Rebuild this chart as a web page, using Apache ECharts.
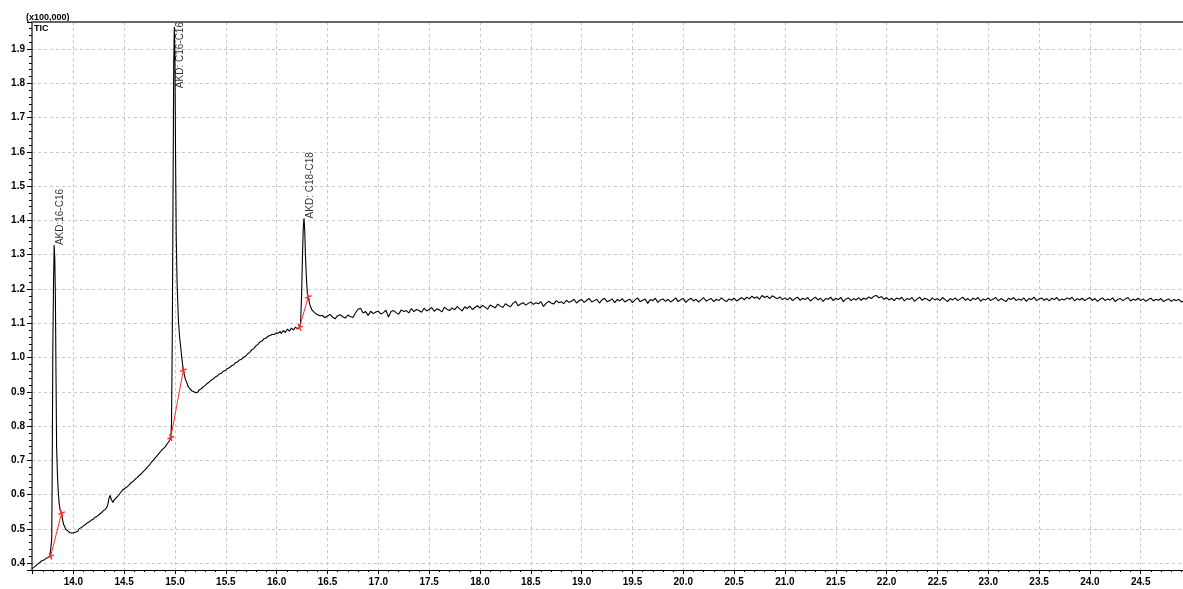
<!DOCTYPE html>
<html>
<head>
<meta charset="utf-8">
<script src="https://cdn.jsdelivr.net/npm/echarts@6/dist/echarts.min.js"></script>
<style>
html,body{margin:0;padding:0;background:#fff;}
#chart{width:1183px;height:589px;}
</style>
</head>
<body>
<div id="chart"></div>
<script>
// ---- data (retention time in min, intensity in x100,000) ----
const ticEarly = [
[13.593,0.384],[13.61,0.388],[13.63,0.392],[13.65,0.398],[13.67,0.402],[13.69,0.407],[13.71,0.409],[13.73,0.414],[13.75,0.416],[13.77,0.421],[13.78,0.425],
[13.787,0.47],[13.791,0.63],[13.798,1.03],[13.805,1.22],[13.811,1.328],[13.817,1.29],[13.823,1.18],[13.829,0.95],[13.835,0.74],[13.843,0.66],[13.851,0.61],[13.86,0.575],[13.87,0.555],[13.884,0.545],
[13.895,0.525],[13.905,0.512],[13.915,0.506],[13.925,0.499],[13.935,0.497],[13.945,0.494],[13.955,0.492],[13.965,0.489],[13.975,0.492],[13.985,0.488],[13.995,0.491],[14.005,0.489],[14.015,0.494],[14.025,0.491],[14.035,0.496],[14.045,0.494],[14.055,0.500],[14.065,0.497],[14.075,0.503],[14.085,0.502],[14.095,0.508],[14.105,0.505],[14.115,0.512],[14.125,0.510],[14.135,0.517],[14.145,0.514],[14.155,0.520],[14.165,0.518],[14.175,0.525],[14.185,0.523],[14.195,0.528],[14.205,0.527],[14.215,0.534],[14.225,0.531],[14.235,0.537],[14.245,0.536],[14.255,0.542],[14.265,0.540],[14.275,0.547],[14.285,0.545],[14.295,0.553],[14.305,0.552],[14.315,0.557],[14.325,0.560],[14.335,0.566],
[14.35,0.588],[14.36,0.598],[14.375,0.585],[14.39,0.577],[14.400,0.584],[14.410,0.583],[14.425,0.592],[14.435,0.590],[14.445,0.598],[14.455,0.600],[14.465,0.606],[14.475,0.608],[14.485,0.614],[14.495,0.612],[14.505,0.618],[14.515,0.617],[14.525,0.622],[14.535,0.623],[14.545,0.627],[14.555,0.628],[14.565,0.634],[14.575,0.633],[14.585,0.638],[14.595,0.640],[14.605,0.644],[14.615,0.644],[14.625,0.649],[14.635,0.650],[14.645,0.655],[14.655,0.655],[14.665,0.660],[14.675,0.662],[14.685,0.666],[14.695,0.667],[14.705,0.672],[14.715,0.674],[14.725,0.679],[14.735,0.680],[14.745,0.685],[14.755,0.689],[14.765,0.693],[14.775,0.695],[14.785,0.700],[14.795,0.702],[14.805,0.707],[14.815,0.709],[14.825,0.714],[14.835,0.716],[14.845,0.721],[14.855,0.722],[14.865,0.728],[14.875,0.729],[14.885,0.734],[14.895,0.735],[14.905,0.740],[14.915,0.743],[14.925,0.749],[14.935,0.751],[14.945,0.757],[14.958,0.766]
];
const ticPeak2 = [
[14.965,0.80],[14.973,1.05],[14.980,1.45],[14.987,1.85],[14.993,1.965],[14.999,1.88],[15.005,1.60],[15.012,1.35],[15.020,1.22],[15.033,1.11],[15.045,1.06],[15.056,1.03],[15.070,0.99],[15.082,0.963],
[15.095,0.945],[15.105,0.934],[15.115,0.928],[15.125,0.918],[15.135,0.915],[15.145,0.909],[15.155,0.911],[15.165,0.903],[15.175,0.905],[15.185,0.900],[15.195,0.904],[15.205,0.897],[15.215,0.901],[15.225,0.899],[15.235,0.905],[15.245,0.902],[15.255,0.908],[15.265,0.906],[15.275,0.914],[15.285,0.911],[15.295,0.918],[15.305,0.916],[15.315,0.924],[15.325,0.921],[15.335,0.928],[15.345,0.926],[15.355,0.934],[15.365,0.931],[15.375,0.937],[15.385,0.936],[15.395,0.943],[15.405,0.941],[15.415,0.946],[15.425,0.944],[15.435,0.952],[15.445,0.949],[15.455,0.954],[15.465,0.953],[15.475,0.960],[15.485,0.957],[15.495,0.962],[15.505,0.961],[15.515,0.968],[15.525,0.965],[15.535,0.970],[15.545,0.970],[15.555,0.976],[15.565,0.973],[15.575,0.978],[15.585,0.979],[15.595,0.985],[15.605,0.982],[15.615,0.987],[15.625,0.988],[15.635,0.993],[15.645,0.991],[15.655,0.995],[15.665,0.997],[15.675,1.001],[15.685,1.000],[15.695,1.004],[15.705,1.007],[15.715,1.011],[15.725,1.010],[15.735,1.015],[15.745,1.018],[15.755,1.022],[15.765,1.021],[15.775,1.026],[15.785,1.030],[15.795,1.034],[15.805,1.033],[15.815,1.038],[15.825,1.041],[15.835,1.045],[15.845,1.043],[15.855,1.048],[15.865,1.052],[15.875,1.055],[15.885,1.052],[15.895,1.057],[15.905,1.060],[15.915,1.062],[15.925,1.059],[15.935,1.064],[15.945,1.067],[15.955,1.068],[15.965,1.063],[15.975,1.067],[15.985,1.071],[15.995,1.072],[16.005,1.067],[16.015,1.071],[16.025,1.076],[16.035,1.076],[16.045,1.070],[16.055,1.074],[16.065,1.079],[16.075,1.079],[16.085,1.073],[16.095,1.078],[16.105,1.083],[16.115,1.083],[16.125,1.077],[16.135,1.081],[16.145,1.086],[16.155,1.086],[16.165,1.080],[16.175,1.084],[16.185,1.089],[16.195,1.088],[16.205,1.083],[16.215,1.087],[16.225,1.088]
];
const ticPeak3 = [
[16.235,1.10],[16.245,1.18],[16.254,1.30],[16.262,1.38],[16.269,1.406],[16.276,1.37],[16.283,1.30],[16.291,1.24],[16.301,1.19],[16.311,1.177],[16.325,1.155],[16.345,1.140],[16.365,1.133],[16.385,1.128],[16.405,1.125],[16.425,1.122]
];
const ticLate = [
[16.450,1.123],[16.475,1.116],[16.500,1.121],[16.525,1.126],[16.550,1.118],[16.575,1.113],[16.600,1.122],[16.625,1.125],[16.650,1.119],[16.675,1.115],[16.700,1.124],[16.725,1.120],[16.750,1.117],[16.775,1.130],[16.800,1.141],[16.825,1.144],[16.850,1.130],[16.875,1.134],[16.900,1.123],[16.925,1.135],[16.950,1.128],[16.975,1.133],
[17.000,1.135],[17.025,1.127],[17.050,1.131],[17.075,1.138],[17.100,1.118],[17.125,1.134],[17.150,1.137],[17.175,1.131],[17.200,1.126],[17.225,1.139],[17.250,1.134],[17.275,1.137],[17.300,1.130],[17.325,1.143],[17.350,1.134],[17.375,1.140],[17.400,1.137],[17.425,1.132],[17.450,1.144],[17.475,1.136],
[17.500,1.140],[17.525,1.146],[17.550,1.135],[17.575,1.142],[17.600,1.139],[17.625,1.133],[17.650,1.147],[17.675,1.141],[17.700,1.137],[17.725,1.145],[17.750,1.139],[17.775,1.149],[17.800,1.142],[17.825,1.136],[17.850,1.148],[17.875,1.143],[17.900,1.150],[17.925,1.140],[17.950,1.146],[17.975,1.151],
[18.000,1.144],[18.025,1.152],[18.050,1.147],[18.075,1.141],[18.100,1.153],[18.125,1.149],[18.150,1.145],[18.175,1.156],[18.200,1.150],[18.225,1.146],[18.250,1.157],[18.275,1.152],[18.300,1.148],[18.325,1.158],[18.350,1.164],[18.375,1.151],[18.400,1.156],[18.425,1.160],[18.450,1.153],[18.475,1.158],
[18.500,1.162],[18.525,1.155],[18.550,1.160],[18.575,1.157],[18.600,1.163],[18.625,1.149],[18.650,1.158],[18.675,1.164],[18.700,1.159],[18.725,1.156],[18.750,1.166],[18.775,1.160],[18.800,1.163],[18.825,1.157],[18.850,1.167],[18.875,1.161],[18.900,1.164],[18.925,1.170],[18.950,1.159],[18.975,1.166],
[19.000,1.169],[19.025,1.161],[19.050,1.167],[19.075,1.172],[19.100,1.162],[19.125,1.166],[19.150,1.170],[19.175,1.159],[19.200,1.168],[19.225,1.173],[19.250,1.163],[19.275,1.166],[19.300,1.171],[19.325,1.160],[19.350,1.169],[19.375,1.165],[19.400,1.172],[19.425,1.162],[19.450,1.167],[19.475,1.170],
[19.500,1.160],[19.525,1.168],[19.550,1.174],[19.575,1.163],[19.600,1.167],[19.625,1.171],[19.650,1.158],[19.675,1.169],[19.700,1.166],[19.725,1.173],[19.750,1.161],[19.775,1.168],[19.800,1.171],[19.825,1.164],[19.850,1.170],[19.875,1.162],[19.900,1.167],[19.925,1.174],[19.950,1.163],[19.975,1.169],
[20.000,1.172],[20.025,1.161],[20.050,1.168],[20.075,1.173],[20.100,1.165],[20.125,1.170],[20.150,1.162],[20.175,1.168],[20.200,1.175],[20.225,1.164],[20.250,1.169],[20.275,1.172],[20.300,1.163],[20.325,1.170],[20.350,1.166],[20.375,1.174],[20.400,1.168],[20.425,1.163],[20.450,1.171],[20.475,1.167],
[20.500,1.173],[20.525,1.165],[20.550,1.170],[20.575,1.175],[20.600,1.168],[20.625,1.176],[20.650,1.171],[20.675,1.179],[20.700,1.173],[20.725,1.177],[20.750,1.170],[20.775,1.181],[20.800,1.175],[20.825,1.179],[20.850,1.172],[20.875,1.180],[20.900,1.176],[20.925,1.171],[20.950,1.177],[20.975,1.169],
[21.000,1.174],[21.025,1.168],[21.050,1.175],[21.075,1.166],[21.100,1.172],[21.125,1.176],[21.150,1.167],[21.175,1.173],[21.200,1.169],[21.225,1.175],[21.250,1.165],[21.275,1.171],[21.300,1.176],[21.325,1.168],[21.350,1.173],[21.375,1.164],[21.400,1.172],[21.425,1.170],[21.450,1.176],[21.475,1.166],
[21.500,1.173],[21.525,1.169],[21.550,1.175],[21.575,1.163],[21.600,1.171],[21.625,1.174],[21.650,1.166],[21.675,1.172],[21.700,1.168],[21.725,1.175],[21.750,1.167],[21.775,1.173],[21.800,1.170],[21.825,1.177],[21.850,1.172],[21.875,1.179],[21.900,1.181],[21.925,1.174],[21.950,1.178],[21.975,1.170],
[22.000,1.175],[22.025,1.168],[22.050,1.173],[22.075,1.166],[22.100,1.174],[22.125,1.170],[22.150,1.176],[22.175,1.165],[22.200,1.172],[22.225,1.169],[22.250,1.175],[22.275,1.164],[22.300,1.171],[22.325,1.176],[22.350,1.167],[22.375,1.173],[22.400,1.170],[22.425,1.165],[22.450,1.174],[22.475,1.168],
[22.500,1.172],[22.525,1.166],[22.550,1.175],[22.575,1.169],[22.600,1.163],[22.625,1.172],[22.650,1.168],[22.675,1.174],[22.700,1.166],[22.725,1.171],[22.750,1.176],[22.775,1.167],[22.800,1.172],[22.825,1.165],[22.850,1.173],[22.875,1.169],[22.900,1.175],[22.925,1.164],[22.950,1.171],[22.975,1.168],
[23.000,1.174],[23.025,1.166],[23.050,1.171],[23.075,1.175],[23.100,1.165],[23.125,1.172],[23.150,1.168],[23.175,1.163],[23.200,1.173],[23.225,1.169],[23.250,1.175],[23.275,1.166],[23.300,1.171],[23.325,1.167],[23.350,1.174],[23.375,1.164],[23.400,1.172],[23.425,1.169],[23.450,1.176],[23.475,1.166],
[23.500,1.171],[23.525,1.174],[23.550,1.167],[23.575,1.172],[23.600,1.165],[23.625,1.173],[23.650,1.169],[23.675,1.175],[23.700,1.166],[23.725,1.171],[23.750,1.168],[23.775,1.174],[23.800,1.170],[23.825,1.176],[23.850,1.165],[23.875,1.172],[23.900,1.168],[23.925,1.173],[23.950,1.166],[23.975,1.171],
[24.000,1.175],[24.025,1.167],[24.050,1.172],[24.075,1.164],[24.100,1.170],[24.125,1.174],[24.150,1.166],[24.175,1.171],[24.200,1.168],[24.225,1.174],[24.250,1.163],[24.275,1.170],[24.300,1.172],[24.325,1.166],[24.350,1.171],[24.375,1.175],[24.400,1.165],[24.425,1.170],[24.450,1.167],[24.475,1.173],
[24.500,1.166],[24.525,1.171],[24.550,1.164],[24.575,1.169],[24.600,1.173],[24.625,1.165],[24.650,1.170],[24.675,1.167],[24.700,1.172],[24.725,1.163],[24.750,1.168],[24.775,1.171],[24.800,1.164],[24.825,1.169],[24.850,1.166],[24.875,1.170],[24.900,1.162],[24.916,1.165]
];
const peakTimes   = [13.811, 14.993, 16.269];
const peakHeights = [1.328, 1.965, 1.406];
const peakNames   = ['AKD:16-C16', 'AKD: C16-C16', 'AKD: C18-C18'];
const baselineStart = [[13.776,0.420],[14.958,0.766],[16.225,1.088]];
const baselineEnd   = [[13.884,0.546],[15.082,0.963],[16.311,1.177]];
const xRange = [13.593, 24.916];
const yRange = [0.380, 1.979];
const yUnitText = '(x100,000)';
const traceName = 'TIC';

// ---- build ----
const FONT = '"Liberation Sans", Arial, sans-serif';
const tic = ticEarly.concat(ticPeak2, ticPeak3, ticLate);
const baselineData = [];
baselineStart.forEach((s, i) => { baselineData.push(s, baselineEnd[i], '-'); });
const LABEL_SPAN = 0.193; // vertical room a rotated label needs, in axis units
const labelData = peakTimes.map((t, i) => ({
  value: [t, Math.min(peakHeights[i], yRange[1] - LABEL_SPAN)],
  name: peakNames[i]
}));

const chart = echarts.init(document.getElementById('chart'), null, {renderer: 'canvas'});
chart.setOption({
  animation: false,
  backgroundColor: '#ffffff',
  grid: {left: 32, right: 0, top: 22, bottom: 19, containLabel: false},
  graphic: [
    {type: 'text', left: 26, top: 13, style: {text: yUnitText, font: 'bold 9px ' + FONT, fill: '#000'}},
    {type: 'text', left: 34, top: 24, style: {text: traceName, font: 'bold 9px ' + FONT, fill: '#000'}}
  ],
  xAxis: [{
    type: 'value', min: xRange[0], max: xRange[1], splitNumber: 22,
    axisLine: {show: true, onZero: false, lineStyle: {color: '#000', width: 1}},
    axisTick: {show: true, length: 4, lineStyle: {color: '#000'}},
    minorTick: {show: true, splitNumber: 5, length: 2, lineStyle: {color: '#000'}},
    axisLabel: {showMinLabel: false, showMaxLabel: false, margin: 7, color: '#000',
      fontFamily: FONT, fontWeight: 'bold', fontSize: 10,
      formatter: v => v.toFixed(1)},
    splitLine: {show: true, lineStyle: {color: '#c8c8c8', width: 1, type: [3, 3]}}
  }, {
    type: 'value', position: 'top', min: xRange[0], max: xRange[1],
    axisLine: {show: true, onZero: false, lineStyle: {color: '#666', width: 2}},
    axisTick: {show: false}, axisLabel: {show: false}, splitLine: {show: false}
  }],
  yAxis: {
    type: 'value', min: yRange[0], max: yRange[1], splitNumber: 15,
    axisLine: {show: true, onZero: false, lineStyle: {color: '#444', width: 1.5}},
    axisTick: {show: true, length: 5, lineStyle: {color: '#000'}},
    minorTick: {show: true, splitNumber: 5, length: 3, lineStyle: {color: '#000'}},
    axisLabel: {showMinLabel: false, showMaxLabel: false, margin: 7, color: '#000',
      fontFamily: FONT, fontWeight: 'bold', fontSize: 10,
      formatter: v => v.toFixed(1)},
    splitLine: {show: true, lineStyle: {color: '#c8c8c8', width: 1, type: [3, 3]}}
  },
  series: [{
    name: traceName, type: 'line', data: tic, showSymbol: false, symbol: 'none',
    lineStyle: {color: '#000', width: 1.1}, z: 3, clip: true
  }, {
    name: 'baseline', type: 'line', data: baselineData, connectNulls: false,
    symbol: 'path://M4,0H6V4H10V6H6V10H4V6H0V4H4Z', symbolSize: 7, symbolRotate: 20, showSymbol: true,
    itemStyle: {color: '#ff2a2a'}, lineStyle: {color: '#ff2a2a', width: 1}, z: 4
  }, {
    name: 'peaks', type: 'scatter', data: labelData, symbolSize: 1,
    itemStyle: {color: 'rgba(0,0,0,0)'}, z: 5,
    label: {show: true, formatter: p => p.name, rotate: 90, position: [1.5, 0.5],
      align: 'left', verticalAlign: 'top', color: '#000', fontFamily: FONT, fontSize: 10}
  }]
});
</script>
</body>
</html>
